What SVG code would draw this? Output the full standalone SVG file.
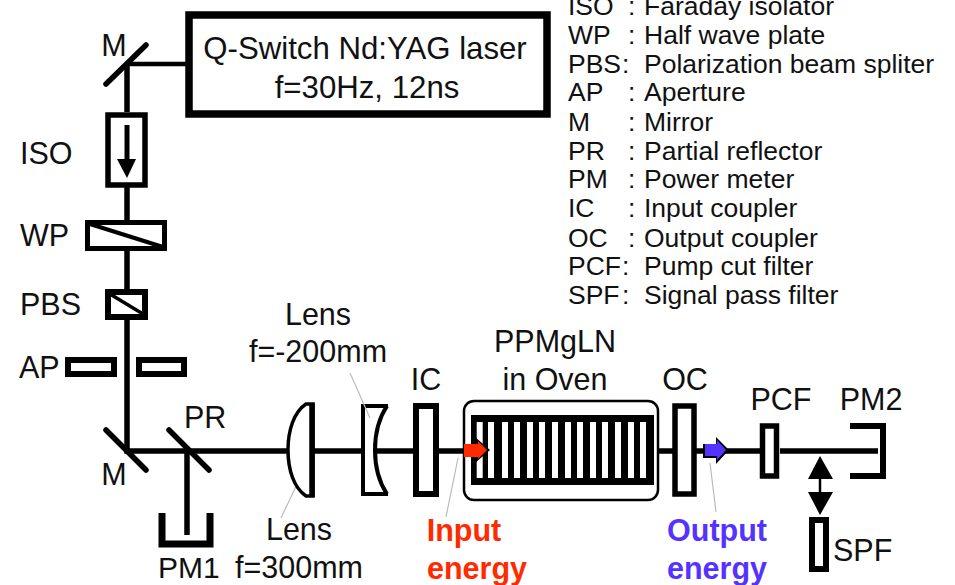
<svg xmlns="http://www.w3.org/2000/svg" width="955" height="585" viewBox="0 0 955 585">
<style>
text{font-family:"Liberation Sans",Arial,sans-serif;font-size:30.5px;fill:#111}
.m{text-anchor:middle}
.k{font-size:26.5px}
.b{font-weight:bold;font-size:30.5px}
.l{fill:none;stroke:#000;stroke-width:5.5}
.h{fill:#fff;stroke:#000}
.g{fill:none;stroke:#bbb;stroke-width:1.2}
</style>
<rect width="955" height="585" fill="#fff"/>
<g id="connectors">
<path class="l" stroke-width="4.500" style="stroke-width:4.500" d="M186 64H127"/>
<path class="l" d="M127 64V112M127 187V222M127 250V290M127 318V451H290M187 451V535M312 451H416M438 451H466M652 451H674M696 451H760M780 451H878"/>
<path fill="none" stroke="#000" stroke-width="2.500" d="M820 475V500"/>
<path fill="#000" d="M820 456L833 479H808ZM820 515L808 492H833Z"/>
<path class="g" d="M299 480L281 518M458 458L446 517M710 463L716 512"/>
</g>
<g id="laser"><rect x="189" y="15" width="358" height="99" fill="#fff" stroke="#000" stroke-width="7.500"/>
<text class="m" x="365" y="59" style="font-size:31.200px">Q-Switch Nd:YAG laser</text><text class="m" x="367" y="98" style="font-size:31.200px">f=30Hz, 12ns</text></g>
<g id="mirror1"><path class="l" stroke-linecap="round" d="M106 84L146 45"/><text class="m" x="114" y="56">M</text></g>
<g id="iso"><rect class="h" x="108" y="115" width="37" height="70" stroke-width="5.500"/><path stroke="#000" stroke-width="5" d="M127 125V165"/><path d="M117 159H136L127 178Z"/><text x="20" y="164">ISO</text></g>
<g id="wp"><rect class="h" x="87.500" y="222.500" width="77" height="26" stroke-width="5"/><path stroke="#000" stroke-width="4" d="M90 224L163 247"/><text x="20" y="246">WP</text></g>
<g id="pbs"><rect class="h" x="108" y="292" width="37" height="25" stroke-width="6"/><path stroke="#000" stroke-width="3.500" d="M110 294L143 314"/><text x="20" y="315">PBS</text></g>
<g id="ap"><rect class="h" x="68" y="360" width="46" height="14" stroke-width="6"/><rect class="h" x="139" y="360" width="45" height="14" stroke-width="6"/><text x="19" y="378">AP</text></g>
<g id="mirror2"><path class="l" stroke-linecap="round" d="M106 430L146 470"/><text class="m" x="114" y="485">M</text></g>
<g id="pr"><path class="l" stroke-linecap="round" d="M169 430L209 470"/><text x="184" y="428">PR</text></g>
<g id="pm1"><path class="l" style="stroke-width:7" d="M162 513V544H210V513"/><text x="158" y="578" style="font-size:30px">PM1</text></g>
<g id="lens1"><path fill="#fff" stroke="#000" stroke-width="3.500" d="M313 404H306C294 412 288 430 288 450C288 470 294 488 306 496H313Z"/><path stroke="#000" stroke-width="5.500" d="M312 403V497"/><text class="m" x="299" y="540">Lens</text><text class="m" x="299" y="578">f=300mm</text></g>
<g id="lens2"><path fill="#fff" stroke="none" d="M363 406H387C372 430 372 470 387 494H363Z"/><path fill="none" stroke="#000" stroke-width="4" d="M388 406H363V494H388"/><path fill="none" stroke="#000" stroke-width="4" d="M387 406C371 430 371 470 387 494"/><text class="m" x="318" y="325">Lens</text><text class="m" x="318" y="362">f=-200mm</text></g>
<g id="ic"><rect class="h" x="416" y="406" width="20" height="88" stroke-width="6"/><text class="m" x="426" y="390">IC</text></g>
<g id="oven"><rect x="464" y="401" width="194" height="99" rx="10" fill="#fff" stroke="#000" stroke-width="2.500"/>
<rect x="471" y="415" width="183" height="70" fill="#000"/>
<path stroke="#fff" stroke-width="6" d="M479.700 422V478M491 422V478M505 422V478M517 422V478M530 422V478M542 422V478M555 422V478M568 422V478M580 422V478M593 422V478M605 422V478M618 422V478M631 422V478M643 422V478"/>
<text class="m" x="555" y="352">PPMgLN</text><text class="m" x="555" y="390">in Oven</text></g>
<g id="input"><path fill="#000" d="M475 437L490 450L475 463Z"/><path fill="#ff2a00" d="M464 444H478V441L487 450L478 459V457H464Z"/><text class="m b" x="464" y="541" style="fill:#ff2a00">Input</text><text class="m b" x="477" y="579" style="fill:#ff2a00">energy</text></g>
<g id="oc"><rect class="h" x="675" y="406" width="19" height="88" stroke-width="5.500"/><text class="m" x="685" y="390">OC</text></g>
<g id="output"><path fill="#000" d="M703 444H716V437L729 450L716 464V458H703Z"/><path fill="#5533ff" d="M705 444H717V440L726 450L717 460V456H705Z"/><text class="m b" x="717" y="541" style="fill:#5533ff">Output</text><text class="m b" x="717" y="579" style="fill:#5533ff">energy</text></g>
<g id="pcf"><rect class="h" x="762.500" y="426" width="14" height="50" stroke-width="5.500"/><text class="m" x="781" y="410">PCF</text></g>
<g id="pm2"><path style="stroke-width:6" class="l" d="M850 426H883V476H850"/><text class="m" x="871" y="410">PM2</text></g>
<g id="spf"><rect class="h" x="812" y="520" width="14" height="49" stroke-width="6"/><text x="833" y="561">SPF</text></g>
<g id="leader-lens2"><path class="g" d="M350 373L370 418"/></g>
<g id="legend">
<text class="k" x="568" y="15">ISO<tspan x="628">:</tspan><tspan x="644">Faraday isolator</tspan></text>
<text class="k" x="568" y="44">WP<tspan x="628">:</tspan><tspan x="644">Half wave plate</tspan></text>
<text class="k" x="568" y="73">PBS<tspan x="622">:</tspan><tspan x="644">Polarization beam spliter</tspan></text>
<text class="k" x="568" y="101">AP<tspan x="628">:</tspan><tspan x="644">Aperture</tspan></text>
<text class="k" x="568" y="131">M<tspan x="628">:</tspan><tspan x="644">Mirror</tspan></text>
<text class="k" x="568" y="160">PR<tspan x="628">:</tspan><tspan x="644">Partial reflector</tspan></text>
<text class="k" x="568" y="188">PM<tspan x="628">:</tspan><tspan x="644">Power meter</tspan></text>
<text class="k" x="568" y="217">IC<tspan x="628">:</tspan><tspan x="644">Input coupler</tspan></text>
<text class="k" x="568" y="247">OC<tspan x="628">:</tspan><tspan x="644">Output coupler</tspan></text>
<text class="k" x="568" y="275">PCF<tspan x="622">:</tspan><tspan x="644">Pump cut filter</tspan></text>
<text class="k" x="568" y="304">SPF<tspan x="622">:</tspan><tspan x="644">Signal pass filter</tspan></text>
</g>
</svg>
